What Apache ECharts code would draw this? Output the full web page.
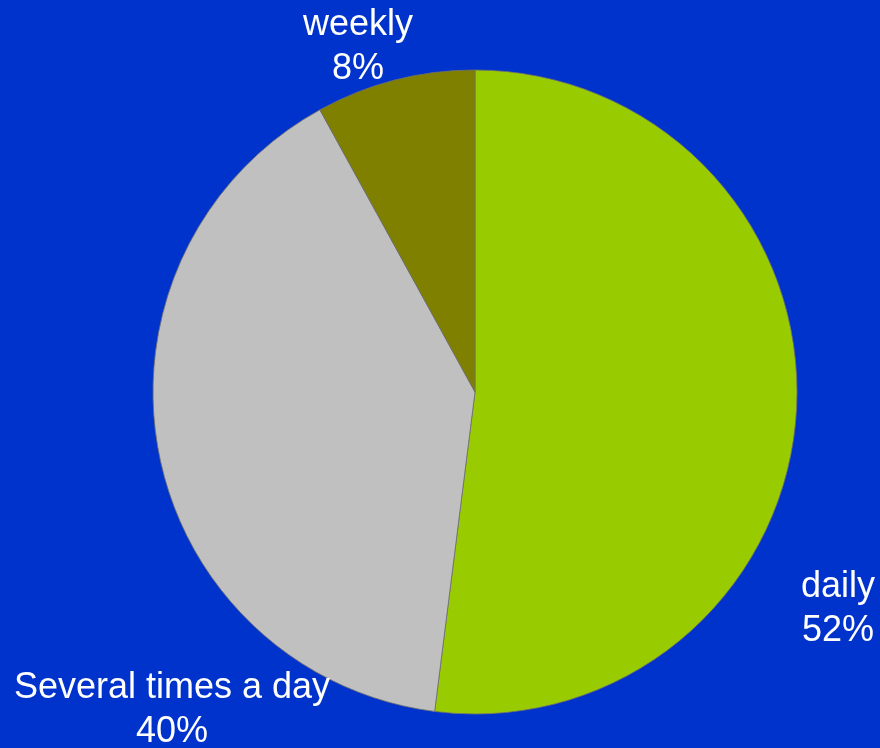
<!DOCTYPE html>
<html>
<head>
<meta charset="utf-8">
<style>
  html, body { margin: 0; padding: 0; background: #0033CC; }
  #chart { width: 880px; height: 748px; }
</style>
<script src="https://cdn.jsdelivr.net/npm/echarts@6/dist/echarts.min.js"></script>
</head>
<body>
<div id="chart"></div>
<script>
// Usage frequency shares (percent)
const categories = ['daily', 'Several times a day', 'weekly'];
const shares = [52, 40, 8];
const sliceColors = ['#99CC00', '#C0C0C0', '#808000'];

// Label anchor points (pixel centres of each two-line label)
const labelAnchors = [[838, 609], [172, 710], [358, 47]];

const chart = echarts.init(document.getElementById('chart'), null, { renderer: 'canvas' });

chart.setOption({
  backgroundColor: '#0033CC',
  animation: false,
  series: [{
    type: 'pie',
    center: [475, 392],
    radius: 322,
    startAngle: 90,
    clockwise: true,
    avoidLabelOverlap: false,
    data: categories.map((name, i) => ({
      name,
      value: shares[i],
      itemStyle: { color: sliceColors[i] }
    })),
    itemStyle: { borderColor: '#707070', borderWidth: 0.8 },
    label: {
      show: true,
      position: 'outside',
      formatter: p => p.name + '\n' + p.value + '%',
      color: '#FFFFFF',
      fontFamily: 'Liberation Sans, Arial, sans-serif',
      fontSize: 36,
      lineHeight: 44,
      align: 'center'
    },
    labelLine: { show: false },
    labelLayout: params => ({
      x: labelAnchors[params.dataIndex][0],
      y: labelAnchors[params.dataIndex][1],
      align: 'center',
      verticalAlign: 'middle'
    })
  }]
});
</script>
</body>
</html>
